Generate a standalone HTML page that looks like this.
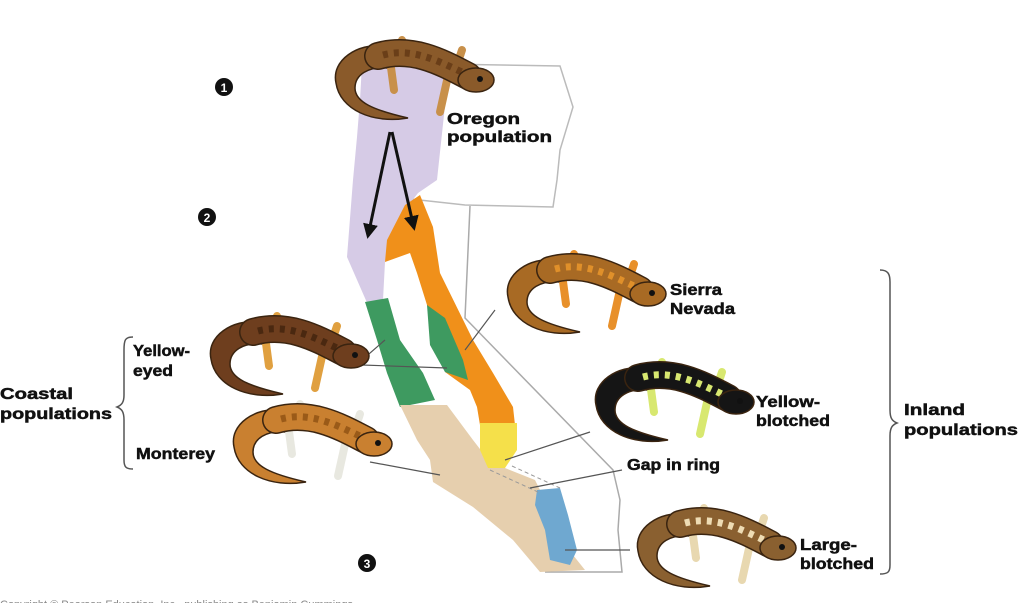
<!DOCTYPE html>
<html><head><meta charset="utf-8"><style>
html,body{margin:0;padding:0;background:#fff;width:1024px;height:603px;overflow:hidden}
text{font-family:"Liberation Sans",Arial,sans-serif;font-weight:bold;fill:#111}
</style></head><body>
<svg width="1024" height="603" viewBox="0 0 1024 603" xmlns="http://www.w3.org/2000/svg">
<defs>
<marker id="ah" viewBox="0 0 10 10" refX="8" refY="5" markerWidth="5" markerHeight="5" orient="auto"><path d="M0 0 L10 5 L0 10 Z" fill="#111"/></marker>
<g id="sal">
  <path d="M8 45 C3 22 30 5 55 8 L60 30 C40 28 27 37 27 50 C27 64 45 72 80 80 C45 86 12 72 8 45 Z" fill="currentColor" stroke="#3a2410" stroke-width="1.5"/>
  <path d="M62 22 L66 52 M120 38 L112 74 M78 18 L74 2 M128 30 L134 12" stroke="var(--leg)" stroke-width="8" stroke-linecap="round" fill="none"/>
  <path d="M50 18 C85 8 115 25 140 38" stroke="#3a2410" stroke-width="28" stroke-linecap="round" fill="none"/>
  <path d="M50 18 C85 8 115 25 140 38" stroke="currentColor" stroke-width="25" stroke-linecap="round" fill="none"/>
  <path d="M55 17 C85 9 112 24 138 36" stroke="var(--sp)" stroke-width="7" stroke-dasharray="5 6" fill="none"/>
  <ellipse cx="148" cy="42" rx="18" ry="12" fill="currentColor" stroke="#3a2410" stroke-width="1.5"/>
  <circle cx="152" cy="41" r="3" fill="#111"/>
</g>
</defs>

<path d="M362 64 L440 64 L560 66 L573 107 L560 150 L557 180 L553 207 L465 205 L356 193" fill="#fff" stroke="#bbb" stroke-width="1.5"/>
<path d="M470 206 L465 318 L613 470 L620 500 L618 530 L622 572 L545 572" fill="none" stroke="#aaa" stroke-width="1.5"/>

<path d="M362 64 L447 66 L447 87 L437 180 L418 193 L405 210 L390 240 L385 262 L383 300 L368 305 L347 257 L353 180 L357 137 L360 100 Z" fill="#d6cbe6"/>
<path d="M405 205 L420 195 L433 227 L440 273 L473 340 L493 373 L513 407 L515 425 L480 425 L477 407 L470 390 L445 372 L427 305 L417 273 L410 253 L385 262 L387 240 Z" fill="#f0901a"/>
<path d="M427 305 L445 318 L463 360 L468 380 L445 372 L430 345 Z" fill="#3e9a60"/>
<path d="M365 302 L388 298 L400 340 L423 373 L435 400 L400 407 L387 373 L377 340 Z" fill="#3e9a60"/>
<path d="M400 405 L447 405 L473 440 L490 462 L535 480 L545 500 L565 545 L585 570 L540 572 L513 540 L473 507 L433 482 L430 460 L417 440 Z" fill="#e6cfae"/>
<path d="M480 423 L517 423 L517 450 L505 468 L488 468 L480 450 Z" fill="#f5e04a"/>
<path d="M537 490 L560 488 L568 515 L577 550 L570 565 L550 560 L545 530 L535 505 Z" fill="#6fa8d0"/>
<path d="M490 470 L538 492 M512 466 L560 488" stroke="#999" stroke-dasharray="4 3" fill="none"/>

<path d="M390 132 L368 236" stroke="#111" stroke-width="3" fill="none" marker-end="url(#ah)"/>
<path d="M392 132 L414 228" stroke="#111" stroke-width="3" fill="none" marker-end="url(#ah)"/>

<g stroke="#555" stroke-width="1.2" fill="none">
<path d="M362 360 L385 340 M362 365 L447 368"/>
<path d="M465 350 L495 310"/>
<path d="M370 462 L440 475"/>
<path d="M505 460 L590 432"/>
<path d="M530 488 L622 470"/>
<path d="M565 550 L630 550"/>
</g>

<use href="#sal" x="328" y="38" style="color:#8a5a2a;--leg:#c8904a;--sp:#6a3e18"/>
<use href="#sal" x="500" y="252" style="color:#a86a24;--leg:#e8902a;--sp:#e0902a"/>
<use href="#sal" x="203" y="314" style="color:#6e3e1e;--leg:#e0a040;--sp:#4a2810"/>
<use href="#sal" x="588" y="360" style="color:#151515;--leg:#d8e870;--sp:#d8e870"/>
<use href="#sal" x="226" y="402" style="color:#c98030;--leg:#e8e8e0;--sp:#9a5a18"/>
<use href="#sal" x="630" y="506" style="color:#8a6030;--leg:#e8d8b0;--sp:#eedcb4"/>

<circle cx="224" cy="87" r="9" fill="#111"/><text x="224" y="92" font-size="12" text-anchor="middle" style="fill:#fff">1</text>
<circle cx="207" cy="217" r="9" fill="#111"/><text x="207" y="222" font-size="12" text-anchor="middle" style="fill:#fff">2</text>
<circle cx="367" cy="563" r="9" fill="#111"/><text x="367" y="568" font-size="12" text-anchor="middle" style="fill:#fff">3</text>

<g font-size="16" stroke="#111" stroke-width="0.5">
<text x="447" y="124" textLength="73" lengthAdjust="spacingAndGlyphs">Oregon</text><text x="447" y="142" textLength="105" lengthAdjust="spacingAndGlyphs">population</text>
<text x="670" y="295" textLength="52" lengthAdjust="spacingAndGlyphs">Sierra</text><text x="670" y="314" textLength="65" lengthAdjust="spacingAndGlyphs">Nevada</text>
<text x="756" y="407" textLength="64" lengthAdjust="spacingAndGlyphs">Yellow-</text><text x="756" y="426" textLength="74" lengthAdjust="spacingAndGlyphs">blotched</text>
<text x="627" y="470" textLength="93" lengthAdjust="spacingAndGlyphs">Gap in ring</text>
<text x="800" y="550" textLength="57" lengthAdjust="spacingAndGlyphs">Large-</text><text x="800" y="569" textLength="74" lengthAdjust="spacingAndGlyphs">blotched</text>
<text x="904" y="415" textLength="61" lengthAdjust="spacingAndGlyphs">Inland</text><text x="904" y="435" textLength="114" lengthAdjust="spacingAndGlyphs">populations</text>
<text x="133" y="356" textLength="57" lengthAdjust="spacingAndGlyphs">Yellow-</text><text x="133" y="376" textLength="40" lengthAdjust="spacingAndGlyphs">eyed</text>
<text x="136" y="459" textLength="79" lengthAdjust="spacingAndGlyphs">Monterey</text>
<text x="0" y="399" textLength="73" lengthAdjust="spacingAndGlyphs">Coastal</text><text x="0" y="419" textLength="112" lengthAdjust="spacingAndGlyphs">populations</text>
</g>

<path d="M133 337 C125 337 124 340 124 350 L124 395 C124 402 122 405 117 407 C122 409 124 412 124 420 L124 460 C124 467 126 469 133 469" stroke="#555" stroke-width="1.5" fill="none"/>
<path d="M880 270 C888 270 890 274 890 282 L890 410 C890 418 892 421 897 423 C892 425 890 428 890 436 L890 565 C890 572 888 574 880 574" stroke="#555" stroke-width="1.5" fill="none"/>

<text x="0" y="608" font-size="11" style="fill:#888;font-weight:normal">Copyright © Pearson Education, Inc., publishing as Benjamin Cummings</text>
</svg>
</body></html>
